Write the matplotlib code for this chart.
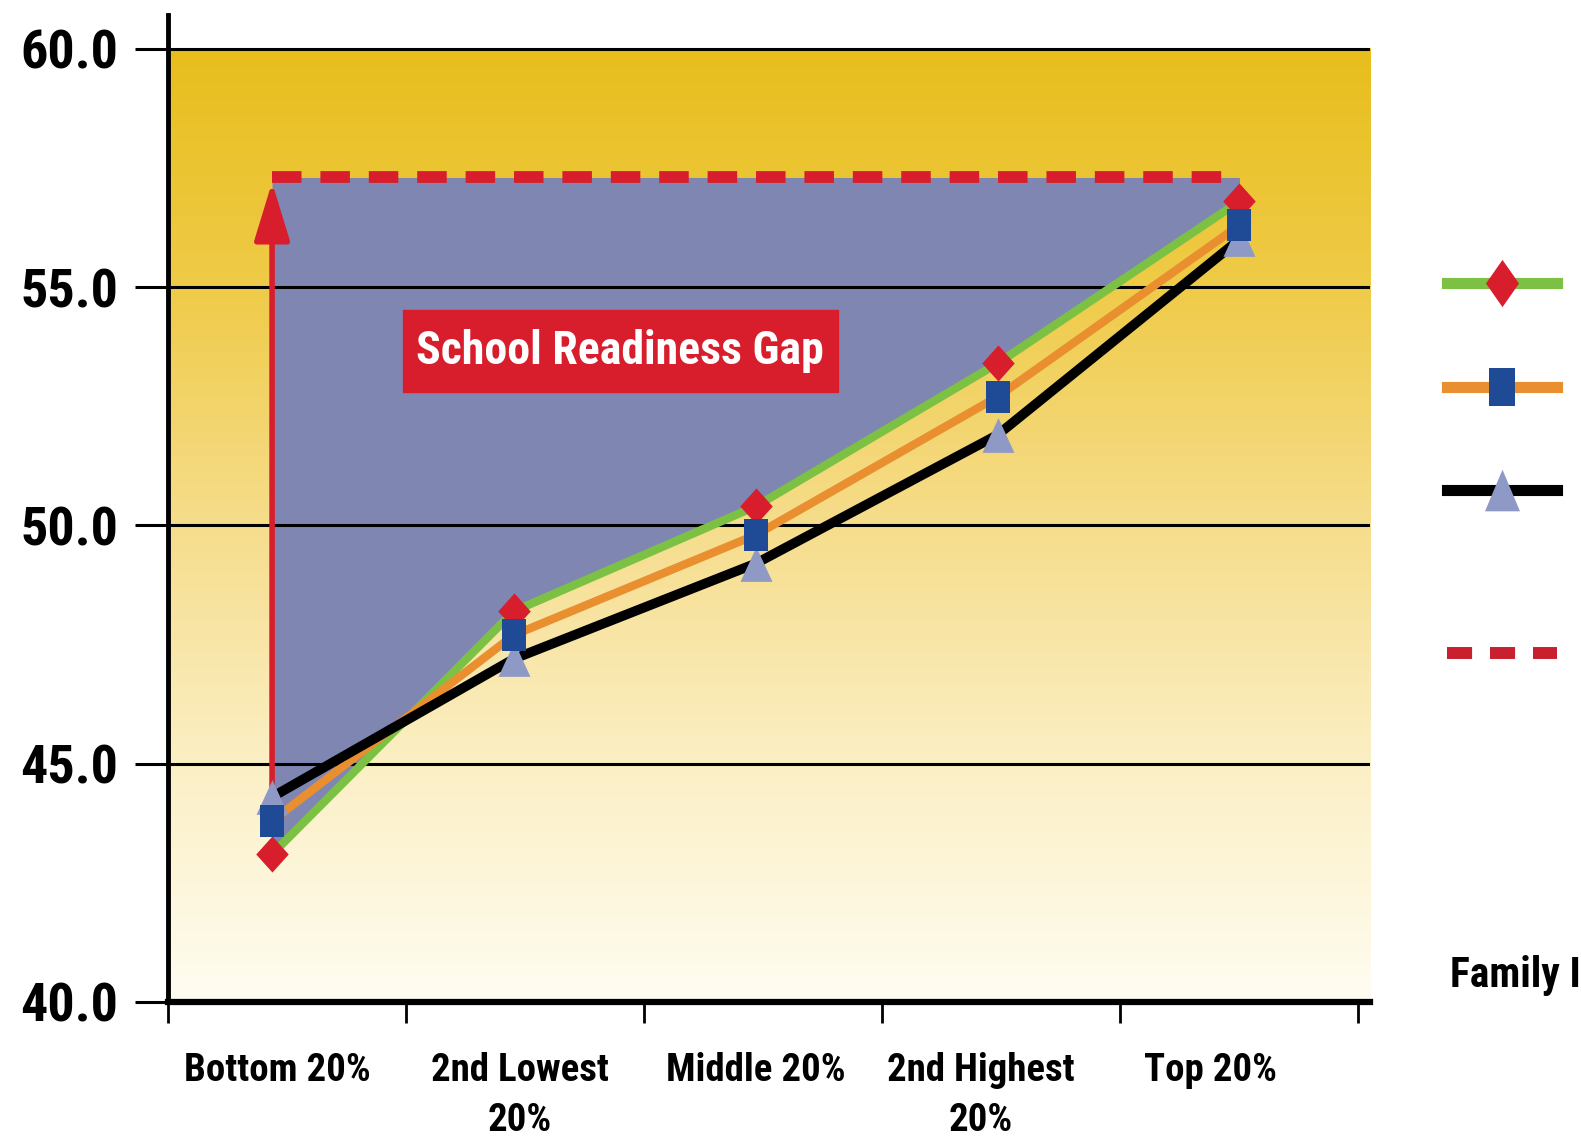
import numpy as np
import matplotlib.pyplot as plt
from matplotlib.colors import LinearSegmentedColormap
from matplotlib.lines import Line2D
from matplotlib.patches import Rectangle

plt.rcParams['font.family'] = ['Roboto Condensed', 'Liberation Sans', 'DejaVu Sans']
plt.rcParams['font.weight'] = 'bold'

# Readiness scores by family income quintile
quintiles = ["Bottom 20%", "2nd Lowest\n20%", "Middle 20%", "2nd Highest\n20%", "Top 20%"]
series_a = [43.1, 48.2, 50.4, 53.4, 56.8]   # green line, red diamonds
series_b = [43.8, 47.7, 49.8, 52.7, 56.3]   # orange line, blue squares
series_c = [44.3, 47.2, 49.2, 51.9, 56.0]   # black line, pale triangles
top_level = 57.3                             # dashed target line
y_ticks = [40.0, 45.0, 50.0, 55.0, 60.0]

GREEN = "#7cc143"
ORANGE = "#e98f2f"
RED = "#d81e2c"
NAVY = "#1f4b96"
PALE = "#8e99c6"
SLATE = "#7f86b2"

diamond = [(0, 0.5), (0.45, 0), (0, -0.5), (-0.45, 0), (0, 0.5)]
rect = [(-0.39, -0.5), (0.39, -0.5), (0.39, 0.5), (-0.39, 0.5), (-0.39, -0.5)]
tri = [(0, 0.5), (0.46, -0.5), (-0.46, -0.5), (0, 0.5)]

x = np.arange(len(quintiles))
x_left, x_right = -0.43, 4.54

fig = plt.figure(figsize=(15.81, 11.42), dpi=100)
ax = fig.add_axes([0.1063, 0.1226, 0.7603, 0.8643])

# vertical gold-to-cream gradient behind the plot
grad = LinearSegmentedColormap.from_list(
    "gold", [(0.0, "#fffdf2"), (0.25, "#fbefc4"), (0.5, "#f6dd8c"),
             (0.75, "#efcb48"), (1.0, "#e8be1c")])
ax.imshow(np.linspace(0, 1, 256).reshape(-1, 1), cmap=grad, origin="lower",
          extent=[x_left, x_right, 40, 60], aspect="auto", zorder=0)

# gap area between the top line and the lowest-income curve
ax.fill_between(x, series_a, top_level, color=SLATE, lw=0, zorder=1)

ax.set_xlim(x_left, x_right)
ax.set_ylim(40, 60.71)

ax.set_yticks(y_ticks)
ax.set_yticklabels([f"{v:.1f}" for v in y_ticks], fontsize=39)
ax.yaxis.grid(True, color="black", lw=2.2)
ax.set_axisbelow(False)
ax.tick_params(axis="y", length=24, width=2.2, pad=12, colors="black")

ax.set_xticks(np.arange(6) * 0.984 - 0.43)
ax.set_xticklabels([])
ax.tick_params(axis="x", which="major", length=15, width=2, direction="out")
label_pos = [0.02, 1.025, 2.0, 2.93, 3.88]
ax.set_xticks(label_pos, minor=True)
ax.set_xticklabels(quintiles, minor=True, fontsize=28, linespacing=1.45)
ax.tick_params(axis="x", which="minor", length=0, pad=36)

for side in ["top", "right"]:
    ax.spines[side].set_visible(False)
ax.spines["left"].set_linewidth(3.5)
ax.spines["bottom"].set_linewidth(4.5)

ax.plot(x, series_a, color=GREEN, lw=6, zorder=4, solid_capstyle="butt")
ax.plot(x, series_b, color=ORANGE, lw=6, zorder=4, solid_capstyle="butt")
ax.plot(x, series_c, color="black", lw=7, zorder=4, solid_capstyle="butt")

ax.plot(x, series_c, ls="none", marker=tri, ms=25, color=PALE, mew=0, zorder=5)
ax.plot(x, series_a, ls="none", marker=diamond, ms=26, color=RED, mew=0, zorder=5)
ax.plot(x, series_b, ls="none", marker=rect, ms=23, color=NAVY, mew=0, zorder=5)

# dashed target line and the arrow showing the gap
ax.plot([x[0], x[-1]], [top_level, top_level], color=RED, lw=8.5,
        dashes=(2.5, 1.6), dash_capstyle="butt", zorder=3)
ax.annotate("", xy=(x[0], top_level - 0.1), xytext=(x[0], series_c[0] - 0.3),
            arrowprops=dict(arrowstyle="-|>,head_length=3.6,head_width=1.1",
                            color=RED, lw=4, shrinkA=0, shrinkB=0), zorder=3)

ax.add_patch(Rectangle((0.54, 52.8), 1.8, 1.72, color=RED, zorder=6))
ax.text(1.44, 53.66, "School Readiness Gap", color="white", fontsize=33,
        ha="center", va="center", zorder=7)

# legend keys at the right edge
key_x = [0.9152, 0.9848]
key_y = [0.7522, 0.6611, 0.5709, 0.4282]
fig.add_artist(Line2D(key_x, [key_y[0]] * 2, color=GREEN, lw=8, transform=fig.transFigure))
fig.add_artist(Line2D([np.mean(key_x)], [key_y[0]], ls="none", color=RED, mew=0,
                      marker=[(0, 0.5), (0.35, 0), (0, -0.5), (-0.35, 0), (0, 0.5)],
                      ms=34, transform=fig.transFigure))
fig.add_artist(Line2D(key_x, [key_y[1]] * 2, color=ORANGE, lw=8, transform=fig.transFigure))
fig.add_artist(Line2D([np.mean(key_x)], [key_y[1]], ls="none", color=NAVY, mew=0,
                      marker=[(-0.35, -0.5), (0.35, -0.5), (0.35, 0.5), (-0.35, 0.5), (-0.35, -0.5)],
                      ms=27, transform=fig.transFigure))
fig.add_artist(Line2D(key_x, [key_y[2]] * 2, color="black", lw=8, transform=fig.transFigure))
fig.add_artist(Line2D([np.mean(key_x)], [key_y[2]], ls="none", color=PALE, mew=0,
                      marker=[(0, 0.5), (0.42, -0.5), (-0.42, -0.5), (0, 0.5)],
                      ms=30, transform=fig.transFigure))
fig.add_artist(Line2D(key_x, [key_y[3]] * 2, color="#c8202e", lw=8.6,
                      dashes=(2.1, 1.5), dash_capstyle="butt", transform=fig.transFigure))

fig.text(0.917, 0.1357, "Family Income", fontsize=30, va="baseline", ha="left")

fig.savefig("out.png", dpi=100, facecolor="white")
